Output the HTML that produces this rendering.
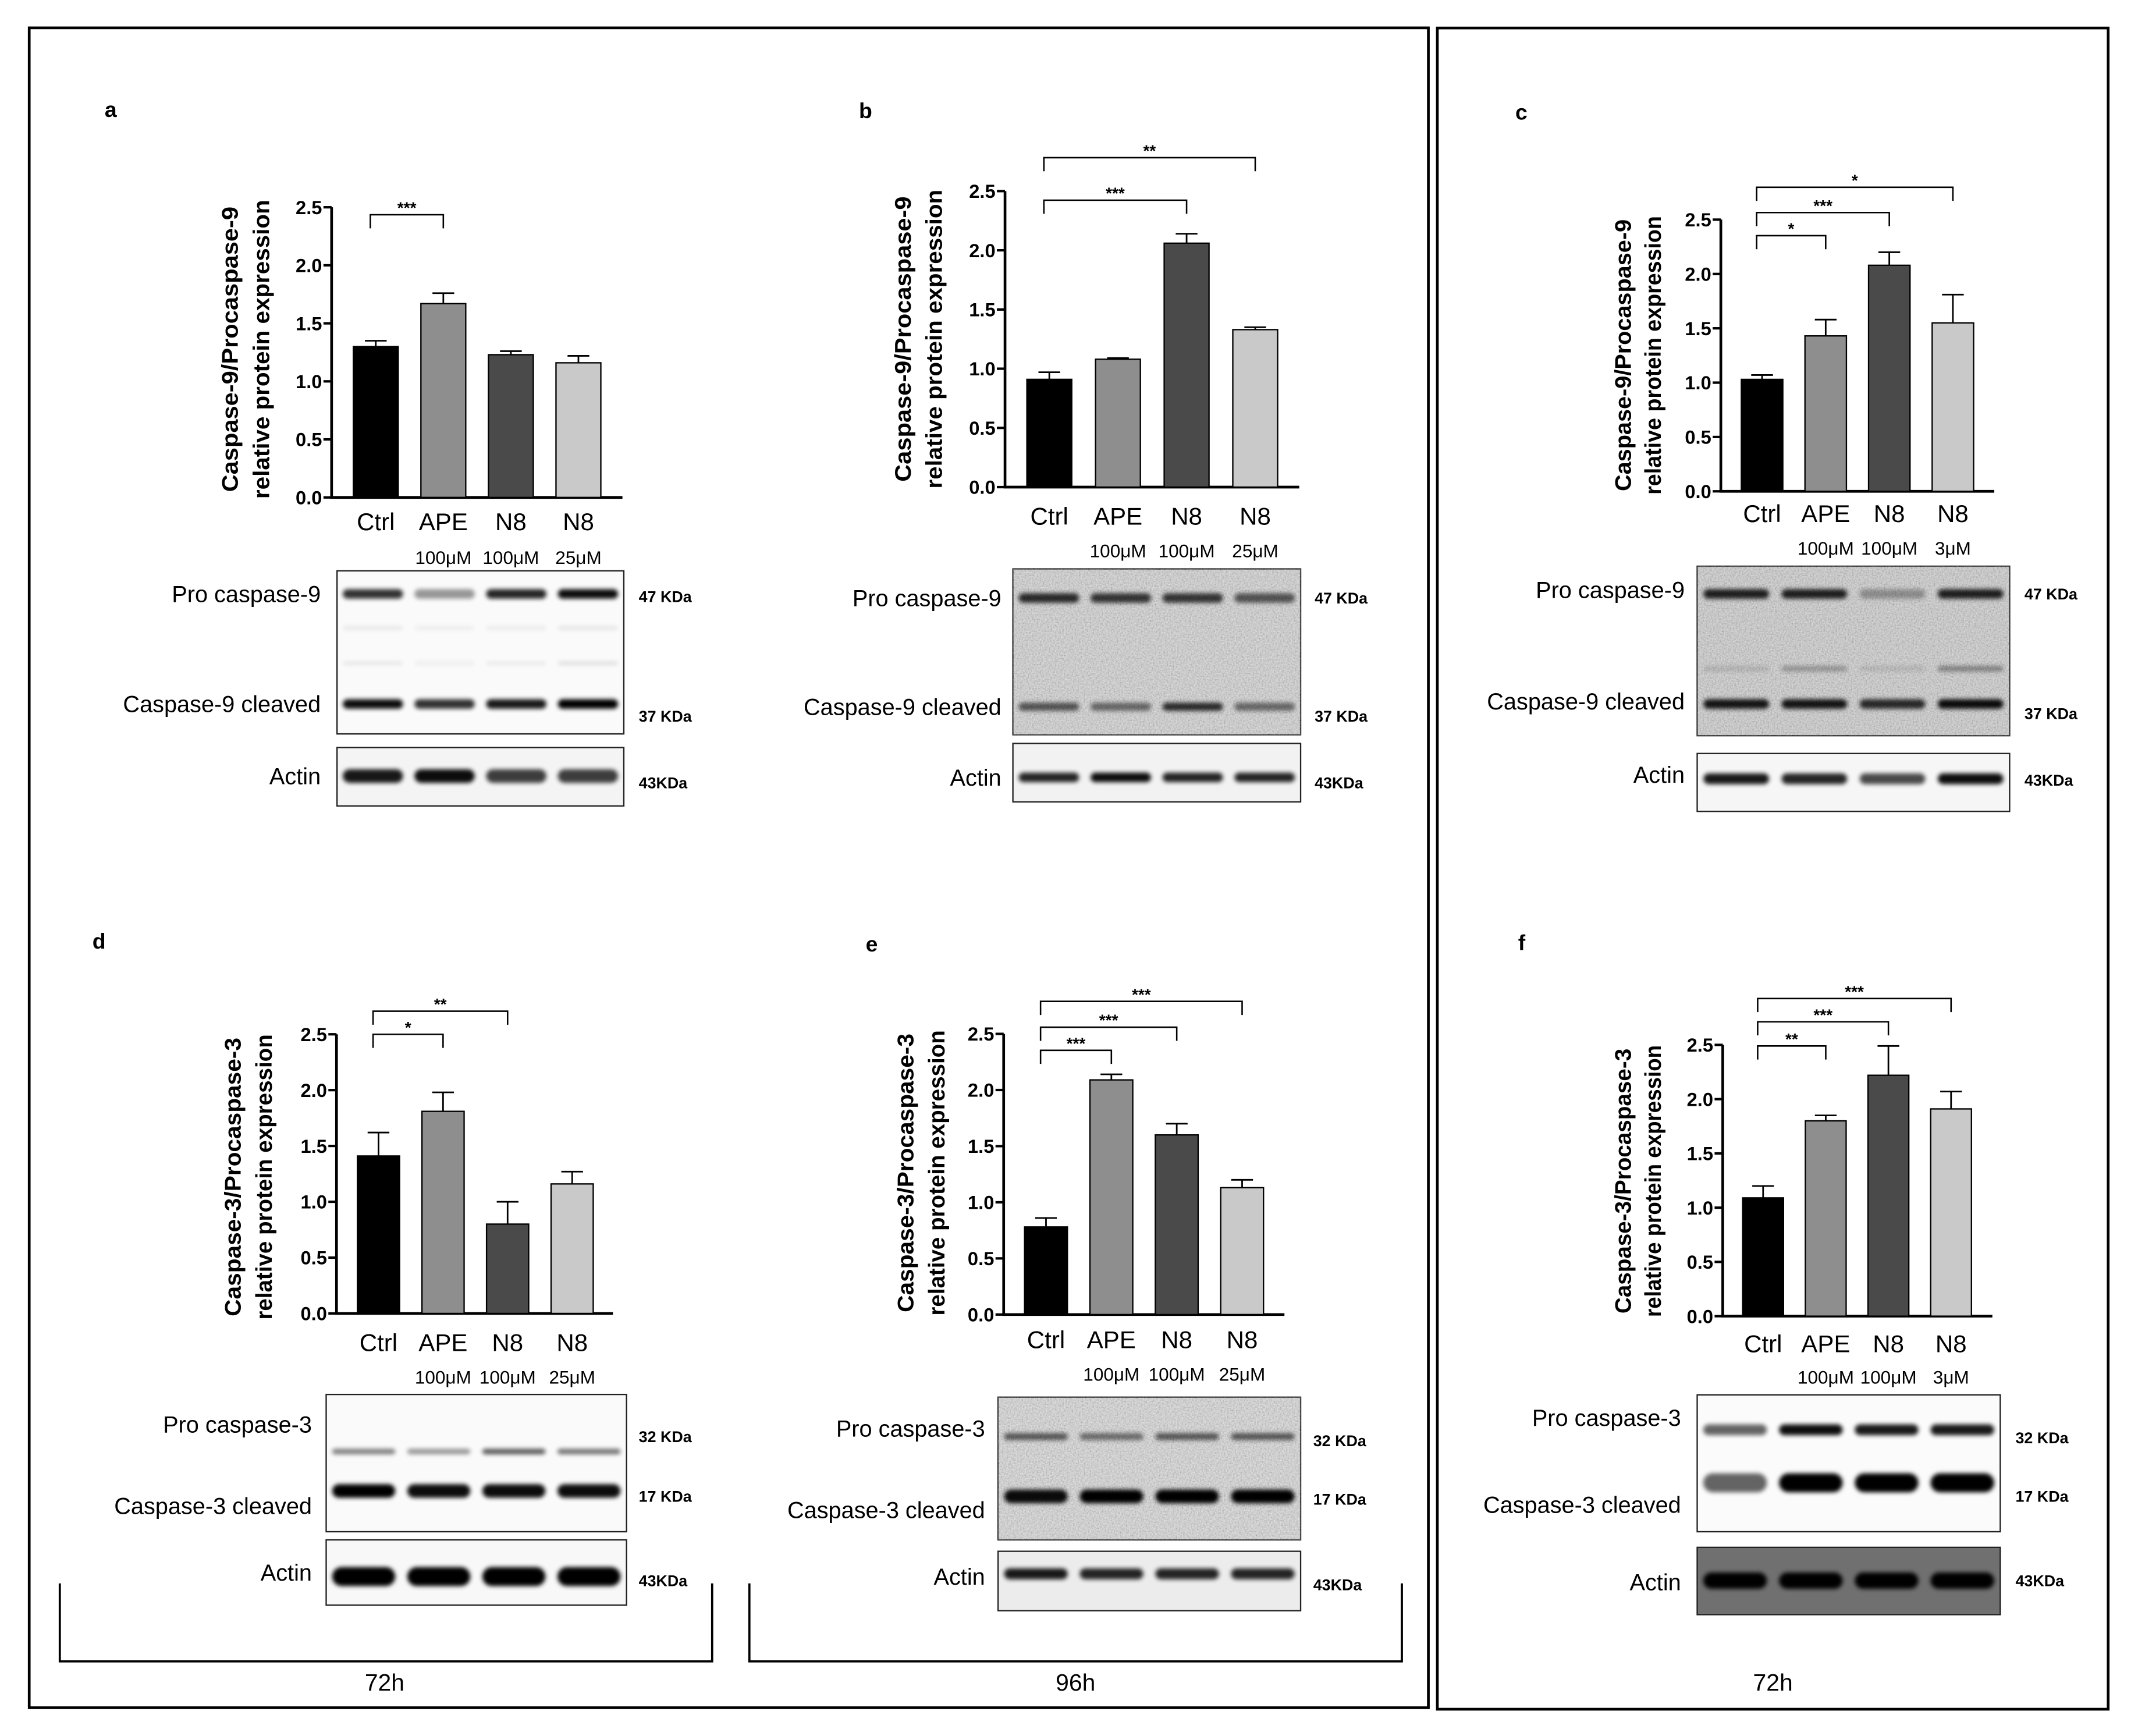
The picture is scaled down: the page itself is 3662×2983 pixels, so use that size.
<!DOCTYPE html>
<html><head><meta charset="utf-8"><style>
html,body{margin:0;padding:0;background:#fff;}
svg{display:block;}
text{font-family:"Liberation Sans",sans-serif;}
</style></head><body>
<svg id="fig" xmlns="http://www.w3.org/2000/svg" width="3662" height="2983" viewBox="0 0 1568 1277.3" preserveAspectRatio="none">
<defs>
<filter id="blur" x="-20%" y="-100%" width="140%" height="300%"><feGaussianBlur stdDeviation="1.6"/></filter>
<filter id="grain" x="0" y="0" width="100%" height="100%"><feTurbulence type="fractalNoise" baseFrequency="0.9" numOctaves="2" seed="3"/><feColorMatrix type="matrix" values="1 0 0 0 -0.1  1 0 0 0 -0.1  1 0 0 0 -0.1  0 0 0 0 0.35"/></filter>
</defs>
<rect x="21.5" y="20.5" width="1029.5" height="1236" fill="none" stroke="#000" stroke-width="2"/>
<rect x="1057.6" y="20.6" width="493.6" height="1237" fill="none" stroke="#000" stroke-width="2"/>
<g id="root"></g>
</svg>
<script>
const categories = ['Ctrl','APE','N8','N8'];
const dosesStd = ['', '100\u03BCM', '100\u03BCM', '25\u03BCM'];
const dosesAlt = ['', '100\u03BCM', '100\u03BCM', '3\u03BCM'];
const ticks = [0, 0.5, 1, 1.5, 2, 2.5];
const tickLabels = ['0.0','0.5','1.0','1.5','2.0','2.5'];
const barColors = ['#000000','#8e8e8e','#4a4a4a','#c9c9c9'];

const valuesA = [1.30, 1.67, 1.23, 1.16];
const errorsA = [0.05, 0.09, 0.03, 0.06];
const sigA = [[0,1,'***']];
const valuesB = [0.91, 1.08, 2.06, 1.33];
const errorsB = [0.06, 0.01, 0.08, 0.02];
const sigB = [[0,2,'***'],[0,3,'**']];
const valuesC = [1.03, 1.43, 2.08, 1.55];
const errorsC = [0.04, 0.15, 0.12, 0.26];
const sigC = [[0,1,'*'],[0,2,'***'],[0,3,'*']];
const valuesD = [1.41, 1.81, 0.80, 1.16];
const errorsD = [0.21, 0.17, 0.20, 0.11];
const sigD = [[0,1,'*'],[0,2,'**']];
const valuesE = [0.78, 2.09, 1.60, 1.13];
const errorsE = [0.08, 0.05, 0.10, 0.07];
const sigE = [[0,1,'***'],[0,2,'***'],[0,3,'***']];
const valuesF = [1.09, 1.80, 2.22, 1.91];
const errorsF = [0.11, 0.05, 0.27, 0.16];
const sigF = [[0,1,'**'],[0,2,'***'],[0,3,'***']];

const NS = 'http://www.w3.org/2000/svg';
const root = document.getElementById('root');
function mk(tag, attrs, parent, txt){
  const e = document.createElementNS(NS, tag);
  for (const k in attrs) e.setAttribute(k, attrs[k]);
  if (txt !== undefined) e.textContent = txt;
  (parent||root).appendChild(e);
  return e;
}

const panels = [
 {id:'a', values:valuesA, errors:errorsA, sig:sigA, doses:dosesStd, letter:[77,86], ax:244, y0:366, y25:152.5, xEnd:458, barL:260, step:49.7, bw:33,
  sigY:[158], ylab:['Caspase-9/Procaspase-9','relative protein expression'], ylx:[170,193], ylcy:257, yl1:210, yl2:220, catY:390, subY:415,
  blot:{x:248,y:420,w:211,h:120,bg:'#fafafa',grain:false}, actin:{x:248,y:550,w:211,h:43,bg:'#f4f4f4'},
  labR:236, labs:[['Pro caspase-9',443],['Caspase-9 cleaved',524],['Actin',577]],
  kdx:470, kda:[['47 KDa',443],['37 KDa',531],['43KDa',580]],
  bands:[[437,7,[0.8,0.4,0.85,0.95]],[462,3,[0.07,0.05,0.06,0.08]],[488,3,[0.07,0.05,0.06,0.1]],[518,7,[0.95,0.8,0.9,1]]], actinBands:[571,10,[0.9,0.95,0.75,0.75]]},
 {id:'b', values:valuesB, errors:errorsB, sig:sigB, doses:dosesStd, letter:[632,87], ax:739.5, y0:358.4, y25:140.6, xEnd:956, barL:755.6, step:50.5, bw:33,
  sigY:[147.3,116], ylab:['Caspase-9/Procaspase-9','relative protein expression'], ylx:[665,688], ylcy:249.5, yl1:210, yl2:220, catY:386, subY:410,
  blot:{x:745.3,y:418.6,w:211.7,h:122,bg:'#dcdcdc',grain:true}, actin:{x:745.3,y:547,w:211.7,h:43,bg:'#f2f2f2'},
  labR:736.8, labs:[['Pro caspase-9',446],['Caspase-9 cleaved',526],['Actin',578]],
  kdx:967.3, kda:[['47 KDa',444],['37 KDa',531],['43KDa',580]],
  bands:[[440,7,[0.8,0.75,0.75,0.6]],[520,6,[0.6,0.5,0.8,0.5]]], actinBands:[572,7,[0.85,0.95,0.85,0.85]]},
 {id:'c', values:valuesC, errors:errorsC, sig:sigC, doses:dosesAlt, letter:[1115,88], ax:1266.2, y0:361.5, y25:161.6, xEnd:1467.4, barL:1281.3, step:46.8, bw:30.5,
  sigY:[173.4,156.4,137.8], ylab:['Caspase-9/Procaspase-9','relative protein expression'], ylx:[1195,1217], ylcy:261.4, yl1:200, yl2:205, catY:384, subY:408,
  blot:{x:1248.8,y:416.6,w:229.9,h:124.7,bg:'#d6d6d6',grain:true}, actin:{x:1248.8,y:554.4,w:229.9,h:42.6,bg:'#f6f6f6'},
  labR:1239.6, labs:[['Pro caspase-9',440],['Caspase-9 cleaved',522],['Actin',576]],
  kdx:1489.6, kda:[['47 KDa',441],['37 KDa',529],['43KDa',578]],
  bands:[[437,7,[0.85,0.85,0.3,0.85]],[492,4,[0.12,0.28,0.1,0.38]],[518,7,[0.9,0.9,0.8,0.95]]], actinBands:[573,8,[0.9,0.85,0.7,0.95]]},
 {id:'d', values:valuesD, errors:errorsD, sig:sigD, doses:dosesStd, letter:[68,698], ax:247.6, y0:966.4, y25:761, xEnd:451, barL:263, step:47.5, bw:31,
  sigY:[761,744], ylab:['Caspase-3/Procaspase-3','relative protein expression'], ylx:[172,195], ylcy:866, yl1:205, yl2:210, catY:994, subY:1018,
  blot:{x:240,y:1026,w:221,h:101,bg:'#fafafa',grain:false}, actin:{x:240,y:1133,w:221,h:48,bg:'#f8f8f8'},
  labR:229.5, labs:[['Pro caspase-3',1054],['Caspase-3 cleaved',1114],['Actin',1163]],
  kdx:470, kda:[['32 KDa',1061],['17 KDa',1105],['43KDa',1167]],
  bands:[[1068,4,[0.5,0.4,0.65,0.55]],[1097,10,[1,0.95,0.95,0.95]]], actinBands:[1160,14,[1,1,1,1]]},
 {id:'e', values:valuesE, errors:errorsE, sig:sigE, doses:dosesStd, letter:[637,700], ax:738.5, y0:967.2, y25:760.7, xEnd:945.1, barL:753.9, step:48.1, bw:31.5,
  sigY:[772.8,755.8,736.8], ylab:['Caspase-3/Procaspase-3','relative protein expression'], ylx:[667,690], ylcy:863, yl1:205, yl2:210, catY:992, subY:1016,
  blot:{x:734.4,y:1028,w:222.6,h:105,bg:'#e2e2e2',grain:true}, actin:{x:734.4,y:1141.4,w:222.6,h:43.7,bg:'#ececec'},
  labR:724.8, labs:[['Pro caspase-3',1057],['Caspase-3 cleaved',1117],['Actin',1166]],
  kdx:966.3, kda:[['32 KDa',1064],['17 KDa',1107],['43KDa',1170]],
  bands:[[1057,5,[0.6,0.5,0.6,0.6]],[1101,10,[0.95,1,1,1]]], actinBands:[1158,8,[0.9,0.85,0.85,0.85]]},
 {id:'f', values:valuesF, errors:errorsF, sig:sigF, doses:dosesAlt, letter:[1117,699], ax:1267.6, y0:968.4, y25:768.8, xEnd:1466, barL:1282.3, step:46.1, bw:30,
  sigY:[769.6,751.8,734.7], ylab:['Caspase-3/Procaspase-3','relative protein expression'], ylx:[1195,1217], ylcy:869, yl1:195, yl2:200, catY:995, subY:1018,
  blot:{x:1248.8,y:1026.3,w:223,h:100.7,bg:'#fbfbfb',grain:false}, actin:{x:1248.8,y:1138.5,w:223,h:49.5,bg:'#707070'},
  labR:1236.9, labs:[['Pro caspase-3',1049],['Caspase-3 cleaved',1113],['Actin',1170]],
  kdx:1483, kda:[['32 KDa',1062],['17 KDa',1105],['43KDa',1167]],
  bands:[[1052,8,[0.6,0.95,0.9,0.9]],[1091,14,[0.6,1,1,1]]], actinBands:[1163,12,[1,1,1,1]]}
];

panels.forEach(p => {
  const g = mk('g', {});
  
  
  const yScale = v => p.y0 + (p.y25 - p.y0) * v / 2.5;
  const xLeft = i => p.barL + i * p.step;
  const xCenter = i => xLeft(i) + p.bw / 2;

  const lt = mk('text', {x:p.letter[0], y:p.letter[1], 'font-size':16, 'font-weight':'bold'}, g, p.id);
  
  

  const ya = mk('line', {x1:p.ax, x2:p.ax, y1:yScale(2.5), y2:p.y0, stroke:'#000', 'stroke-width':2}, g);
  
  
  ticks.forEach((t, i) => {
    const y = yScale(t);
    const tk = mk('line', {x1:p.ax - 6, x2:p.ax, y1:y, y2:y, stroke:'#000', 'stroke-width':1.8}, g);
    
    
    const tl = mk('text', {x:p.ax - 7, y:y + 5, 'font-size':14, 'font-weight':'bold', 'text-anchor':'end'}, g, tickLabels[i]);
    
    
  });
  const xa = mk('line', {x1:p.ax - 1, x2:p.xEnd, y1:p.y0, y2:p.y0, stroke:'#000', 'stroke-width':2}, g);
  
  

  [0,1].forEach(k => {
    const x = p.ylx[k] + 5;
    const t = mk('text', {x:x, y:p.ylcy, 'font-size':16.5, 'font-weight':'bold', 'text-anchor':'middle', transform:'rotate(-90 ' + x + ' ' + p.ylcy + ')', textLength: k ? p.yl2 : p.yl1, lengthAdjust:'spacingAndGlyphs'}, g, p.ylab[k]);
    
    
  });

  p.values.forEach((v, i) => {
    const top = yScale(v);
    const b = mk('rect', {x:xLeft(i), y:top, width:p.bw, height:p.y0 - top, fill:barColors[i], stroke:'#000', 'stroke-width':1}, g);
    
    
    const et = yScale(v + p.errors[i]);
    const cx = xCenter(i);
    const e1 = mk('line', {x1:cx, x2:cx, y1:top, y2:et, stroke:'#000', 'stroke-width':1.2}, g);
    
    
    const e2 = mk('line', {x1:cx - 8, x2:cx + 8, y1:et, y2:et, stroke:'#000', 'stroke-width':1.2}, g);
    
    
    const cl = mk('text', {x:cx, y:p.catY, 'font-size':18, 'text-anchor':'middle'}, g, categories[i]);
    
    
    if (p.doses[i]) {
      const dl = mk('text', {x:cx, y:p.subY, 'font-size':13.5, 'text-anchor':'middle'}, g, p.doses[i]);
      
      
    }
  });

  p.sig.forEach((s, k) => {
    const y = p.sigY[k];
    const x1 = xCenter(s[0]) - 4, x2 = xCenter(s[1]);
    const br = mk('path', {d:'M' + x1 + ' ' + (y + 10) + 'V' + y + 'H' + x2 + 'V' + (y + 10), fill:'none', stroke:'#000', 'stroke-width':1.1}, g);
    
    
    const st = mk('text', {x:(x1 + x2) / 2, y:y - 1, 'font-size':12, 'font-weight':'bold', 'text-anchor':'middle'}, g, s[2]);
    
    
  });

  const drawBlot = (box, rows, name) => {
    const bg = mk('rect', {x:box.x, y:box.y, width:box.w, height:box.h, fill:box.bg, stroke:'#222', 'stroke-width':1}, g);
    
    
    if (box.grain) {
      const gr = mk('rect', {x:box.x, y:box.y, width:box.w, height:box.h, filter:'url(#grain)'}, g);
      
      
    }
    const lw = box.w / 4;
    rows.forEach(r => {
      r[2].forEach((op, i) => {
        const cx = box.x + lw * (i + 0.5);
        const bd = mk('rect', {x:cx - lw * 0.42, y:r[0] - r[1] / 2, width:lw * 0.84, height:r[1], rx:r[1] / 2, fill:'#000', opacity:op, filter:'url(#blur)'}, g);
        
        
      });
    });
  };
  drawBlot(p.blot, p.bands, 'western-blot-caspase');
  drawBlot(p.actin, [p.actinBands], 'western-blot-actin');
  p.labs.forEach(l => {
    const t = mk('text', {x:p.labR, y:l[1], 'font-size':17, 'text-anchor':'end'}, g, l[0]);
    
    
  });
  p.kda.forEach(l => {
    const t = mk('text', {x:p.kdx, y:l[1], 'font-size':11.5, 'font-weight':'bold'}, g, l[0]);
    
    
  });
});

const timeBrackets = [[44, 524, '72h', 283], [551.4, 1031.5, '96h', 791.4]];
timeBrackets.forEach(tb => {
  const p = mk('path', {d:'M' + tb[0] + ' 1165V1222.4H' + tb[1] + 'V1165', fill:'none', stroke:'#000', 'stroke-width':1.6});
  
  
  const t = mk('text', {x:tb[3], y:1244, 'font-size':17.5, 'text-anchor':'middle'}, root, tb[2]);
  
  
});
const t72 = mk('text', {x:1304.5, y:1244, 'font-size':17.5, 'text-anchor':'middle'}, root, '72h');


</script>
</body></html>
